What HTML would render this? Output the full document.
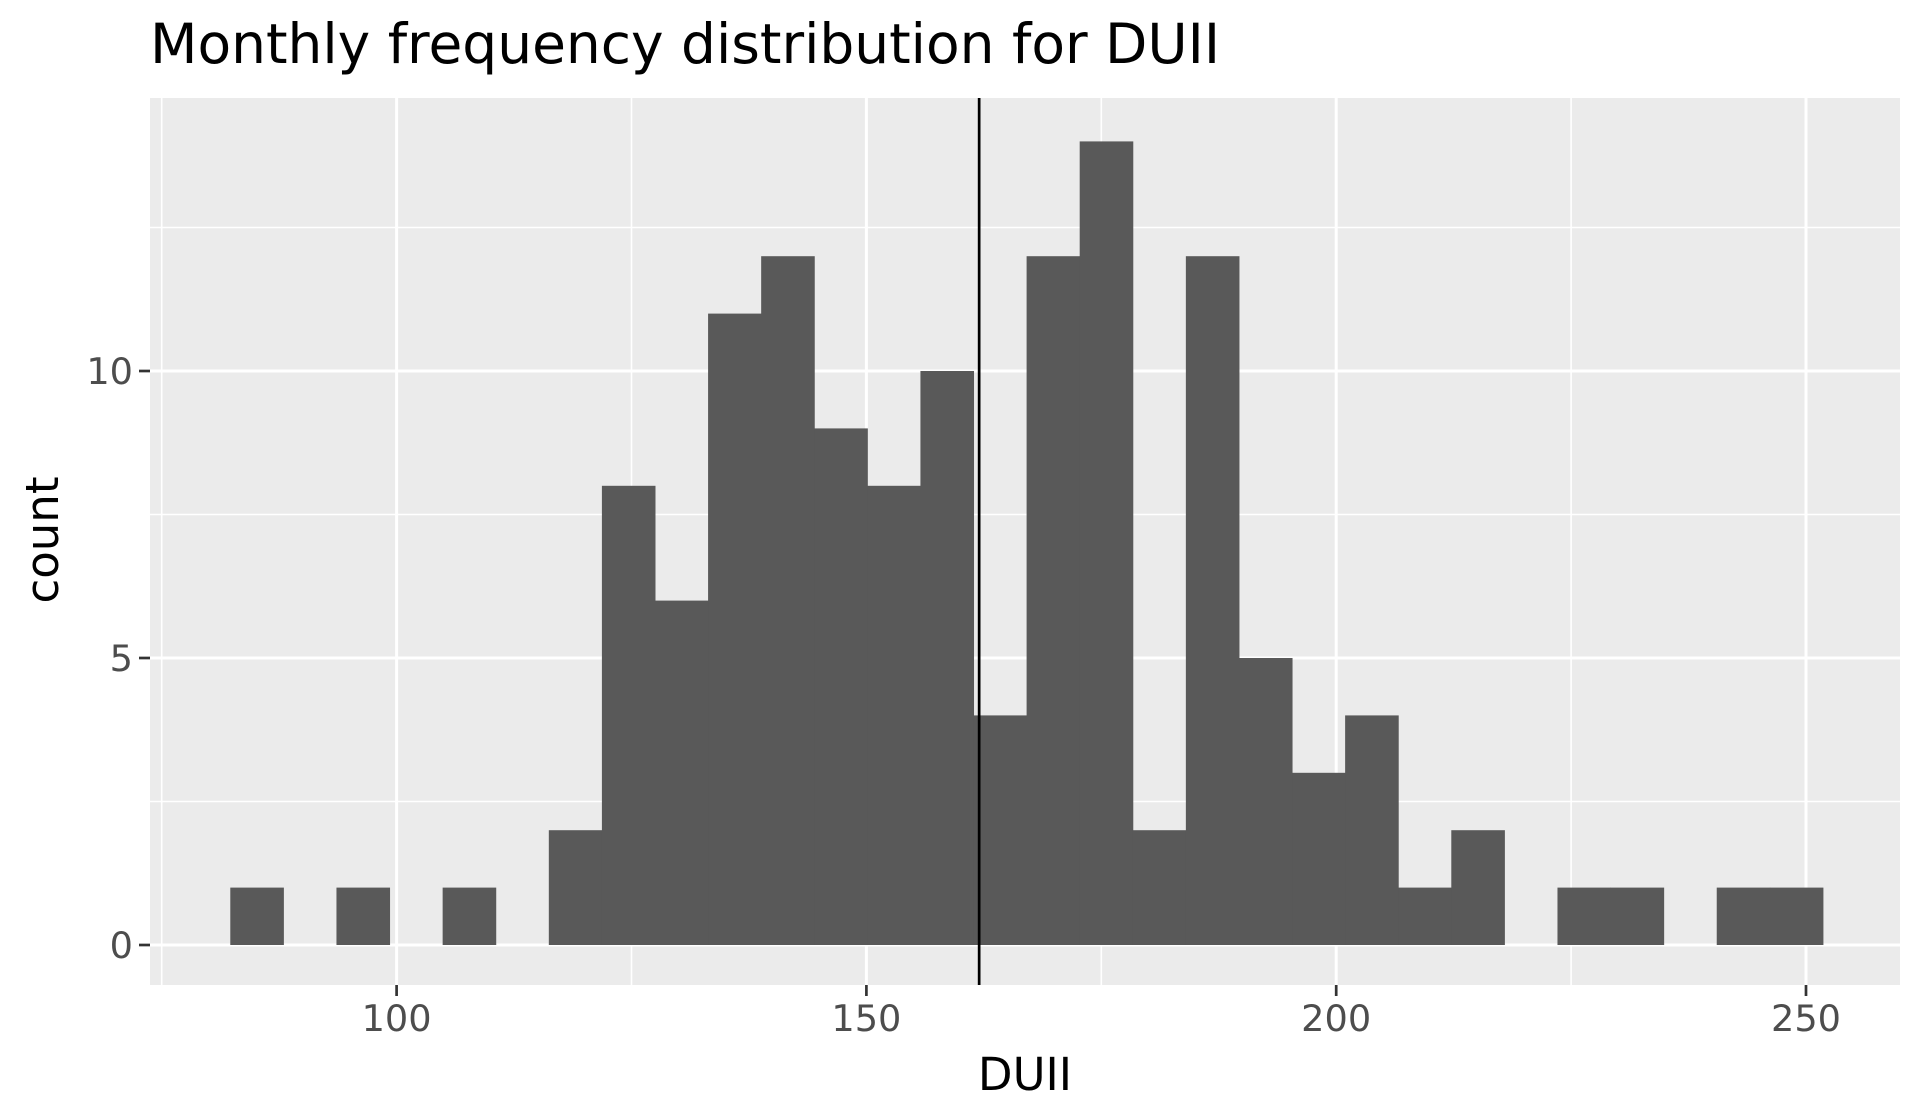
<!DOCTYPE html>
<html><head><meta charset="utf-8">
<style>
html,body{margin:0;padding:0;background:#fff;}
svg{display:block;font-family:"DejaVu Sans","Liberation Sans",sans-serif;}
</style></head>
<body>
<svg id="chart" width="1925" height="1115" viewBox="0 0 1925 1115" xmlns="http://www.w3.org/2000/svg">
<text x="150" y="63" font-size="55" fill="#000">Monthly frequency distribution for DUII</text>
<rect x="150" y="98" width="1750" height="887" fill="#ebebeb"/>
<g id="grid"></g>
<g id="bars"></g>
<g id="axes"></g>
<text x="1025" y="1090" font-size="45" text-anchor="middle" fill="#000">DUII</text>
<text transform="translate(58,540) rotate(-90)" font-size="45" text-anchor="middle" fill="#000">count</text>
</svg>
<script>
const binStart = 82.3;
const binWidth = 5.65;
const counts = [1,0,1,0,1,0,2,8,6,11,12,9,8,10,4,12,14,2,12,5,3,4,1,2,0,1,1,0,1,1];
const meanValue = 162.0;
const xTicks = [100,150,200,250];
const xMinor = [75,125,175,225];
const yTicks = [0,5,10];
const yMinor = [2.5,7.5,12.5];

const NS = "http://www.w3.org/2000/svg";
const PL=150, PR=1900, PT=98, PB=985;
function sx(v){ return 396.6 + (v-100)*9.396; }
function sy(v){ return 945 - v*57.4; }
function mk(tag, attrs, parent){
  const e=document.createElementNS(NS,tag);
  for(const k in attrs) e.setAttribute(k,attrs[k]);
  parent.appendChild(e); return e;
}
const grid=document.getElementById('grid');
const bars=document.getElementById('bars');
const axes=document.getElementById('axes');
xMinor.forEach(v=>{
  const l=mk('line',{x1:sx(v),x2:sx(v),y1:PT,y2:PB,stroke:'#fff','stroke-width':1.6},grid);
  
  
});
yMinor.forEach(v=>{
  const l=mk('line',{x1:PL,x2:PR,y1:sy(v),y2:sy(v),stroke:'#fff','stroke-width':1.6},grid);
  
  
});
xTicks.forEach(v=>{
  const l=mk('line',{x1:sx(v),x2:sx(v),y1:PT,y2:PB,stroke:'#fff','stroke-width':3},grid);
  
  
  const t=mk('line',{x1:sx(v),x2:sx(v),y1:PB,y2:PB+11,stroke:'#333','stroke-width':2.7},axes);
  
  
  const tx=mk('text',{x:sx(v),y:PB+46,'font-size':36.7,'text-anchor':'middle',fill:'#4d4d4d'},axes);
  tx.textContent=v;
  
  
});
yTicks.forEach(v=>{
  const l=mk('line',{x1:PL,x2:PR,y1:sy(v),y2:sy(v),stroke:'#fff','stroke-width':3},grid);
  
  
  const t=mk('line',{x1:PL-11,x2:PL,y1:sy(v),y2:sy(v),stroke:'#333','stroke-width':2.7},axes);
  
  
  const tx=mk('text',{x:PL-17,y:sy(v)+13,'font-size':36.7,'text-anchor':'end',fill:'#4d4d4d'},axes);
  tx.textContent=v;
  
  
});
counts.forEach((c,i)=>{
  if(c<=0) return;
  const x0=sx(binStart+i*binWidth), x1=sx(binStart+(i+1)*binWidth);
  const r=mk('rect',{x:x0,y:sy(c),width:x1-x0+0.5,height:sy(0)-sy(c),fill:'#595959'},bars);
  
  
});
const m=mk('line',{x1:sx(meanValue),x2:sx(meanValue),y1:PT,y2:PB,stroke:'#000','stroke-width':2.7},bars);


</script>
</body></html>
